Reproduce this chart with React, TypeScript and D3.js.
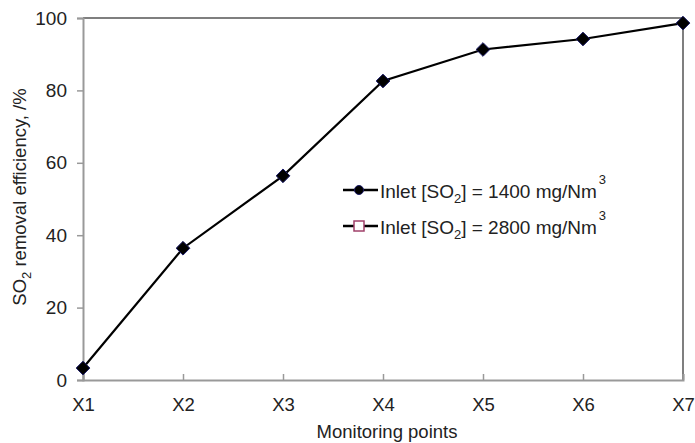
import { useEffect, useRef } from "react"
import * as d3 from "d3"

const categories = ["X1", "X2", "X3", "X4", "X5", "X6", "X7"]
const efficiency1400 = [3.3, 36.4, 56.4, 82.6, 91.3, 94.2, 98.6]
const yTicks = [0, 20, 40, 60, 80, 100]
const legendLabels = ["1400", "2800"]

export default function App() {
  const svgRef = useRef<SVGSVGElement>(null)

  useEffect(() => {
    if (!svgRef.current) return
    const svg = d3.select(svgRef.current)
    svg.selectAll("*").remove()

    const width = 695
    const height = 443
    const margin = { top: 18, right: 12, bottom: 63, left: 83 }
    const font = "Liberation Sans, Arial, sans-serif"

    const x = d3
      .scalePoint<string>()
      .domain(categories)
      .range([margin.left, width - margin.right])
    const y = d3
      .scaleLinear()
      .domain([0, 100])
      .range([height - margin.bottom, margin.top])

    // frame: top and right darker
    svg
      .append("path")
      .attr("d", `M${margin.left},${margin.top}H${width - margin.right}V${height - margin.bottom}`)
      .attr("fill", "none")
      .attr("stroke", "#555")
      .attr("stroke-width", 1.5)

    // y axis
    const yAxis = svg
      .append("g")
      .attr("transform", `translate(${margin.left},0)`)
      .call(d3.axisLeft(y).tickValues(yTicks).tickSize(6).tickPadding(10))
    yAxis.select(".domain").attr("stroke", "#999").attr("stroke-width", 2)
    yAxis.selectAll(".tick line").attr("stroke", "#999").attr("stroke-width", 1.5)
    yAxis
      .selectAll(".tick text")
      .attr("font-family", font)
      .attr("font-size", 19)
      .attr("fill", "#222")

    // x axis, ticks pointing inward
    const xAxis = svg
      .append("g")
      .attr("transform", `translate(0,${height - margin.bottom})`)
      .call(d3.axisBottom(x).tickSize(-6).tickPadding(18))
    xAxis.select(".domain").attr("stroke", "#999").attr("stroke-width", 2)
    xAxis.selectAll(".tick line").attr("stroke", "#999").attr("stroke-width", 1.5)
    xAxis
      .selectAll(".tick text")
      .attr("font-family", font)
      .attr("font-size", 18.5)
      .attr("fill", "#222")

    // axis titles
    svg
      .append("text")
      .attr("x", 387)
      .attr("y", 438)
      .attr("text-anchor", "middle")
      .attr("font-family", font)
      .attr("font-size", 18.5)
      .attr("fill", "#222")
      .text("Monitoring points")

    const yTitle = svg
      .append("text")
      .attr("transform", `translate(26,197) rotate(-90)`)
      .attr("text-anchor", "middle")
      .attr("font-family", font)
      .attr("font-size", 18.5)
      .attr("fill", "#222")
    yTitle.append("tspan").text("SO")
    yTitle.append("tspan").attr("dy", 5).attr("font-size", 13).text("2")
    yTitle.append("tspan").attr("dy", -5).text(" removal efficiency, /%")

    // line
    const line = d3
      .line<number>()
      .x((_, i) => x(categories[i]) as number)
      .y((d) => y(d))
    svg
      .append("path")
      .datum(efficiency1400)
      .attr("fill", "none")
      .attr("stroke", "#000")
      .attr("stroke-width", 2.2)
      .attr("d", line)

    const diamond = d3.symbol().type(d3.symbolDiamond2).size(120)
    svg
      .selectAll(".pt")
      .data(efficiency1400)
      .enter()
      .append("path")
      .attr("class", "pt")
      .attr("transform", (d, i) => `translate(${x(categories[i])},${y(d)})`)
      .attr("d", diamond)
      .attr("fill", "#000")
      .attr("stroke", "#1a1a66")
      .attr("stroke-width", 1)

    // legend
    const lg = svg
      .selectAll(".lg")
      .data(legendLabels)
      .enter()
      .append("g")
      .attr("class", "lg")
      .attr("transform", (_, i) => `translate(343,${190 + i * 36})`)
    lg.append("line")
      .attr("x1", 0)
      .attr("x2", 35)
      .attr("stroke", "#000")
      .attr("stroke-width", 2.5)
    lg.filter((_, i) => i === 0)
      .append("circle")
      .attr("cx", 16)
      .attr("r", 4.5)
      .attr("fill", "#000")
      .attr("stroke", "#1a1a66")
    lg.filter((_, i) => i === 1)
      .append("rect")
      .attr("x", 11)
      .attr("y", -5)
      .attr("width", 10)
      .attr("height", 10)
      .attr("fill", "#fff")
      .attr("stroke", "#a0406a")
      .attr("stroke-width", 1.5)
    const lt = lg
      .append("text")
      .attr("x", 37)
      .attr("y", 8)
      .attr("font-family", font)
      .attr("font-size", 19)
      .attr("fill", "#222")
    lt.append("tspan").text("Inlet [SO")
    lt.append("tspan").attr("dy", 5).attr("font-size", 13).text("2")
    lt.append("tspan").attr("dy", -5).text((d) => `] = ${d} mg/Nm`)
    lt.append("tspan").attr("dx", 2).attr("dy", -14).attr("font-size", 13).text("3")
  }, [])

  return <svg ref={svgRef} width={695} height={443} style={{ position: "absolute", left: 0, top: 0 }} />
}
